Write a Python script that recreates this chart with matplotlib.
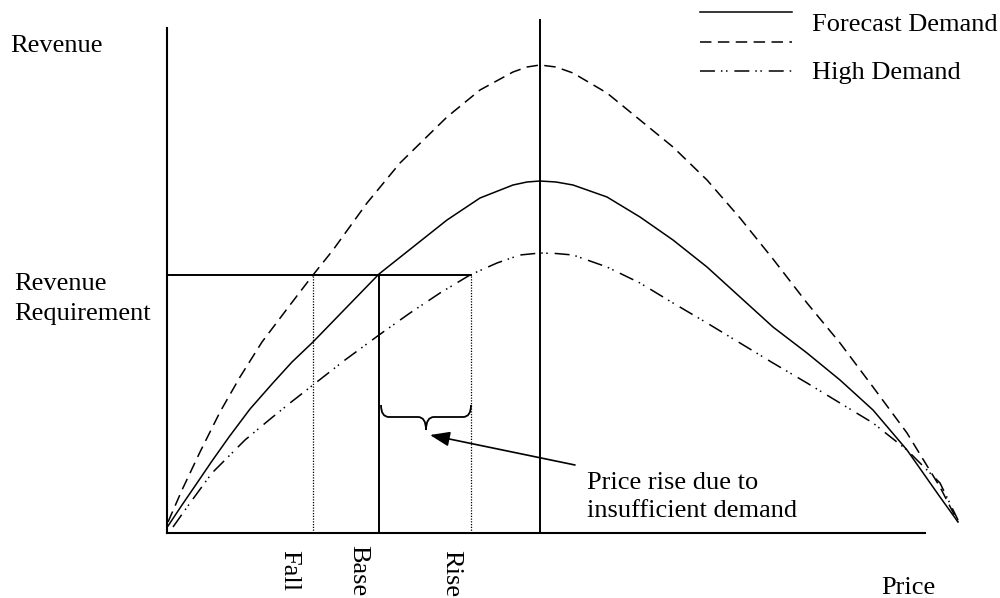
import matplotlib
matplotlib.use("Agg")
import matplotlib.pyplot as plt
from matplotlib.path import Path
from matplotlib.patches import PathPatch

plt.rcParams['font.family'] = ['Liberation Serif', 'DejaVu Serif']

# 곡선 데이터 (가격, 수입) - 그림에서 읽은 값
forecast_price = [1, 15, 28, 45, 62, 83, 105, 125, 146, 178, 212, 246, 280, 313, 346, 360, 373,
                  389, 406, 440, 473, 506, 540, 573, 606, 640, 673, 706, 740, 773, 791]
forecast_rev = [7, 28, 47, 72, 96, 124, 149, 171, 191, 224, 259, 286, 313, 335, 348, 351, 352,
                351, 348, 336, 316, 293, 266, 236, 206, 180, 153, 123, 83, 36, 11]

low_price = [1, 15, 33, 53, 73, 95, 123, 146, 166, 200, 233, 280, 313, 346, 360, 373,
             389, 406, 440, 473, 506, 540, 573, 606, 640, 673, 706, 740, 773, 791]
low_rev = [11, 43, 81, 121, 156, 191, 228, 258, 283, 330, 370, 416, 443, 461, 466, 468,
           466, 460, 440, 413, 386, 353, 315, 274, 230, 190, 146, 100, 46, 11]

high_price = [6, 23, 45, 78, 102, 123, 146, 178, 212, 243, 273, 303, 330, 353, 373,
              389, 406, 440, 473, 506, 540, 573, 606, 640, 673, 706, 740, 773, 791]
high_rev = [6, 30, 60, 93, 113, 130, 148, 173, 198, 220, 240, 258, 270, 278, 280,
            279.5, 278, 266, 250, 230, 210, 190, 170, 150, 130, 110, 83, 50, 13]

# 주요 가격 / 수입 수준
peak_price = 373
fall_price = 146
base_price = 212
rise_price = 304
revenue_req = 258
price_max = 758
rev_max = 505

price_labels = ['Fall', 'Base', 'Rise']
price_label_pos = [fall_price - 24, base_price - 21, rise_price - 20]
price_label_top = [-17, -12, -17]

fig = plt.figure(figsize=(10, 5.98), dpi=100)
ax = fig.add_axes([167 / 1000, 65 / 598, 758 / 1000, 505 / 598])
ax.set_xlim(0, price_max)
ax.set_ylim(0, rev_max)
ax.spines['top'].set_visible(False)
ax.spines['right'].set_visible(False)
ax.spines['left'].set_linewidth(1.5)
ax.spines['bottom'].set_linewidth(1.5)
ax.set_xticks([])
ax.set_yticks([])

solid_kw = dict(color='black', lw=1.1, clip_on=False)
dash_kw = dict(color='black', lw=1.1, clip_on=False, dashes=(7.5, 4.2))
ddot_kw = dict(color='black', lw=1.1, clip_on=False, dashes=(9.8, 3.9, 1.0, 2.3, 1.0, 4.5))

ax.plot(forecast_price, forecast_rev, **solid_kw)
ax.plot(low_price, low_rev, **dash_kw)
ax.plot(high_price, high_rev, **ddot_kw)

# 수직선, 수평선
ax.plot([peak_price, peak_price], [0, rev_max + 8], color='black', lw=1.4, clip_on=False)
ax.plot([0, rise_price], [revenue_req, revenue_req], color='black', lw=1.4)
ax.plot([base_price, base_price], [0, revenue_req], color='black', lw=1.4)
ax.plot([fall_price, fall_price], [0, revenue_req], color='black', lw=0.9, ls=(0, (1, 1.2)))
ax.plot([rise_price, rise_price], [0, revenue_req], color='black', lw=0.9, ls=(0, (1, 1.2)))

# 중괄호
x0, x1 = base_price + 2, rise_price
xc = (x0 + x1) / 2
ytop, ymid, ytip, r = 128, 116, 103, 8
verts = [(x0, ytop), (x0, ymid), (x0 + r, ymid),
         (xc - r, ymid), (xc, ymid), (xc, ytip),
         (xc, ymid), (xc + r, ymid),
         (x1 - r, ymid), (x1, ymid), (x1, ytop)]
codes = [Path.MOVETO, Path.CURVE3, Path.CURVE3,
         Path.LINETO, Path.CURVE3, Path.CURVE3,
         Path.CURVE3, Path.CURVE3,
         Path.LINETO, Path.CURVE3, Path.CURVE3]
ax.add_patch(PathPatch(Path(verts, codes), fill=False, lw=1.3, color='black'))

# 화살표
ax.annotate('', xy=(xc + 4, ytip - 5), xytext=(408, 68),
            arrowprops=dict(arrowstyle='-|>,head_length=0.8,head_width=0.3',
                            color='black', lw=1.2, shrinkA=0, shrinkB=0,
                            mutation_scale=15))

fs = 19
# 여러 줄 텍스트는 마지막 줄 기준선에 맞춤
ax.text(420, 16, 'Price rise due to\ninsufficient demand', fontsize=fs,
        ha='left', va='baseline', linespacing=1.37)
ax.text(-157, 481, 'Revenue', fontsize=fs, ha='left', va='baseline')
ax.text(-153, 213, 'Revenue\nRequirement', fontsize=fs, ha='left', va='baseline',
        linespacing=1.45)
ax.text(714, -61, 'Price', fontsize=fs, ha='left', va='baseline')

for lab, pos, top in zip(price_labels, price_label_pos, price_label_top):
    ax.text(pos, top, lab, fontsize=fs, rotation=270, ha='center', va='top')

# 범례 (수동)
lx = [533, 625]
ax.plot(lx, [521, 521], **solid_kw)
ax.plot(lx, [491, 491], **dash_kw)
ax.plot(lx, [462, 462], **ddot_kw)
ax.text(645, 502, 'Forecast Demand', fontsize=fs, ha='left', va='baseline')
ax.text(645, 454, 'High Demand', fontsize=fs, ha='left', va='baseline')

fig.savefig('out.png', dpi=100)
